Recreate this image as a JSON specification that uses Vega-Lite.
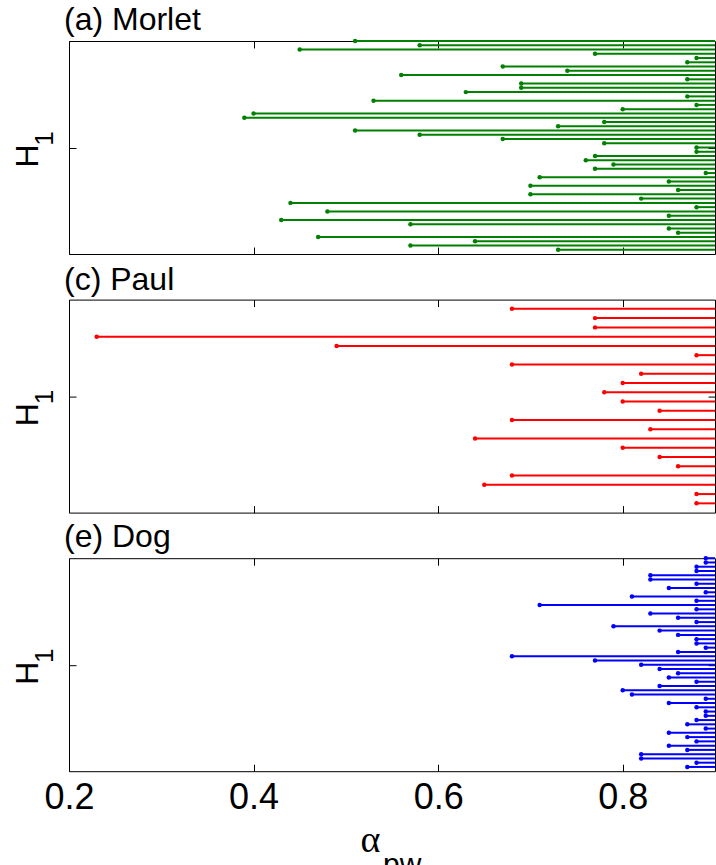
{
  "$schema": "https://vega.github.io/schema/vega-lite/v6.json",
  "padding": {"left": 11, "top": 3, "right": 2, "bottom": 0},
  "background": "white",
  "bounds": "flush",
  "spacing": 45.6,
  "config": {
    "view": {"stroke": "#000", "strokeWidth": 1},
    "axis": {"grid": false, "domain": false, "tickColor": "#000", "tickWidth": 1, "labelFont": "Liberation Sans", "titleFont": "Liberation Sans", "titleFontWeight": "normal", "titleColor": "#000", "labelColor": "#000"},
    "title": {"font": "Liberation Sans", "fontSize": 32, "fontWeight": "normal", "color": "#000", "anchor": "start", "frame": "group", "baseline": "alphabetic", "offset": 2, "dx": -5}
  },
  "datasets": {
    "morlet": [
      {"i": 50, "a": 0.51}, {"i": 49, "a": 0.58}, {"i": 48, "a": 0.45}, {"i": 47, "a": 0.77}, {"i": 46, "a": 0.88},
      {"i": 45, "a": 0.87}, {"i": 44, "a": 0.67}, {"i": 43, "a": 0.74}, {"i": 42, "a": 0.56}, {"i": 41, "a": 0.87},
      {"i": 40, "a": 0.69}, {"i": 39, "a": 0.69}, {"i": 38, "a": 0.63}, {"i": 37, "a": 0.87}, {"i": 36, "a": 0.53},
      {"i": 35, "a": 0.88}, {"i": 34, "a": 0.80}, {"i": 33, "a": 0.40}, {"i": 32, "a": 0.39}, {"i": 31, "a": 0.78},
      {"i": 30, "a": 0.73}, {"i": 29, "a": 0.51}, {"i": 28, "a": 0.58}, {"i": 27, "a": 0.67}, {"i": 26, "a": 0.78},
      {"i": 25, "a": 0.88}, {"i": 24, "a": 0.88}, {"i": 23, "a": 0.77}, {"i": 22, "a": 0.76}, {"i": 21, "a": 0.79},
      {"i": 20, "a": 0.77}, {"i": 19, "a": 0.89}, {"i": 18, "a": 0.71}, {"i": 17, "a": 0.85}, {"i": 16, "a": 0.70},
      {"i": 15, "a": 0.86}, {"i": 14, "a": 0.70}, {"i": 13, "a": 0.82}, {"i": 12, "a": 0.44}, {"i": 11, "a": 0.88},
      {"i": 10, "a": 0.48}, {"i": 9, "a": 0.85}, {"i": 8, "a": 0.43}, {"i": 7, "a": 0.57}, {"i": 6, "a": 0.85},
      {"i": 5, "a": 0.86}, {"i": 4, "a": 0.47}, {"i": 3, "a": 0.64}, {"i": 2, "a": 0.57}, {"i": 1, "a": 0.73}
    ],
    "paul": [
      {"i": 22, "a": 0.68}, {"i": 21, "a": 0.77}, {"i": 20, "a": 0.77}, {"i": 19, "a": 0.23}, {"i": 18, "a": 0.49},
      {"i": 17, "a": 0.88}, {"i": 16, "a": 0.68}, {"i": 15, "a": 0.82}, {"i": 14, "a": 0.80}, {"i": 13, "a": 0.78},
      {"i": 12, "a": 0.80}, {"i": 11, "a": 0.84}, {"i": 10, "a": 0.68}, {"i": 9, "a": 0.83}, {"i": 8, "a": 0.64},
      {"i": 7, "a": 0.80}, {"i": 6, "a": 0.84}, {"i": 5, "a": 0.86}, {"i": 4, "a": 0.68}, {"i": 3, "a": 0.65},
      {"i": 2, "a": 0.88}, {"i": 1, "a": 0.88}
    ],
    "dog": [
      {"i": 50, "a": 0.89}, {"i": 49, "a": 0.89}, {"i": 48, "a": 0.88}, {"i": 47, "a": 0.88}, {"i": 46, "a": 0.83},
      {"i": 45, "a": 0.83}, {"i": 44, "a": 0.88}, {"i": 43, "a": 0.85}, {"i": 42, "a": 0.89}, {"i": 41, "a": 0.81},
      {"i": 40, "a": 0.88}, {"i": 39, "a": 0.71}, {"i": 38, "a": 0.88}, {"i": 37, "a": 0.83}, {"i": 36, "a": 0.86},
      {"i": 35, "a": 0.88}, {"i": 34, "a": 0.79}, {"i": 33, "a": 0.84}, {"i": 32, "a": 0.86}, {"i": 31, "a": 0.88},
      {"i": 30, "a": 0.88}, {"i": 29, "a": 0.89}, {"i": 28, "a": 0.86}, {"i": 27, "a": 0.68}, {"i": 26, "a": 0.77},
      {"i": 25, "a": 0.82}, {"i": 24, "a": 0.84}, {"i": 23, "a": 0.86}, {"i": 22, "a": 0.85}, {"i": 21, "a": 0.88},
      {"i": 20, "a": 0.84}, {"i": 19, "a": 0.80}, {"i": 18, "a": 0.81}, {"i": 17, "a": 0.89}, {"i": 16, "a": 0.85},
      {"i": 15, "a": 0.88}, {"i": 14, "a": 0.89}, {"i": 13, "a": 0.89}, {"i": 12, "a": 0.88}, {"i": 11, "a": 0.87},
      {"i": 10, "a": 0.89}, {"i": 9, "a": 0.85}, {"i": 8, "a": 0.87}, {"i": 7, "a": 0.88}, {"i": 6, "a": 0.85},
      {"i": 5, "a": 0.87}, {"i": 4, "a": 0.82}, {"i": 3, "a": 0.82}, {"i": 2, "a": 0.88}, {"i": 1, "a": 0.87}
    ]
  },
  "vconcat": [
    {
      "title": {"text": "(a) Morlet"},
      "width": 646, "height": 213,
      "data": {"name": "morlet"},
      "layer": [
        {
          "mark": {"type": "rule", "color": "#008000", "strokeWidth": 2},
          "encoding": {
            "x": {"field": "a", "type": "quantitative", "scale": {"domain": [0.2, 0.9], "nice": false, "zero": false},
                  "axis": {"orient": "bottom", "values": [0.2, 0.4, 0.6, 0.8], "labels": false, "tickSize": -7, "title": null}},
            "x2": {"datum": 0.9},
            "y": {"field": "i", "type": "quantitative", "scale": {"domain": [0, 50], "nice": false, "zero": false},
                  "axis": {"orient": "left", "values": [25], "labels": false, "tickSize": -7, "title": "H", "titleAngle": -90, "titleX": -31.5, "titleY": 114.5, "titleAlign": "center", "titleBaseline": "alphabetic", "titleFontSize": 32}}
          }
        },
        {
          "mark": {"type": "point", "filled": true, "color": "#008000", "size": 20, "opacity": 1},
          "encoding": {
            "x": {"field": "a", "type": "quantitative", "axis": {"orient": "top", "values": [0.2, 0.4, 0.6, 0.8], "labels": false, "tickSize": -7, "title": null}},
            "y": {"field": "i", "type": "quantitative", "axis": {"orient": "right", "values": [25], "labels": false, "tickSize": -7, "title": "1", "titleAngle": -90, "titleX": -662.5, "titleY": 97, "titleAlign": "center", "titleBaseline": "alphabetic", "titleFontSize": 26}}
          }
        }
      ],
      "resolve": {"axis": {"x": "independent", "y": "independent"}}
    },
    {
      "title": {"text": "(c) Paul"},
      "width": 646, "height": 213,
      "data": {"name": "paul"},
      "layer": [
        {
          "mark": {"type": "rule", "color": "#ff0000", "strokeWidth": 2},
          "encoding": {
            "x": {"field": "a", "type": "quantitative", "scale": {"domain": [0.2, 0.9], "nice": false, "zero": false},
                  "axis": {"orient": "bottom", "values": [0.2, 0.4, 0.6, 0.8], "labels": false, "tickSize": -7, "title": null}},
            "x2": {"datum": 0.9},
            "y": {"field": "i", "type": "quantitative", "scale": {"domain": [0, 23], "nice": false, "zero": false},
                  "axis": {"orient": "left", "values": [12.5], "labels": false, "tickSize": -7, "title": "H", "titleAngle": -90, "titleX": -31.5, "titleY": 114.5, "titleAlign": "center", "titleBaseline": "alphabetic", "titleFontSize": 32}}
          }
        },
        {
          "mark": {"type": "point", "filled": true, "color": "#ff0000", "size": 20, "opacity": 1},
          "encoding": {
            "x": {"field": "a", "type": "quantitative", "axis": {"orient": "top", "values": [0.2, 0.4, 0.6, 0.8], "labels": false, "tickSize": -7, "title": null}},
            "y": {"field": "i", "type": "quantitative", "axis": {"orient": "right", "values": [12.5], "labels": false, "tickSize": -7, "title": "1", "titleAngle": -90, "titleX": -662.5, "titleY": 97, "titleAlign": "center", "titleBaseline": "alphabetic", "titleFontSize": 26}}
          }
        }
      ],
      "resolve": {"axis": {"x": "independent", "y": "independent"}}
    },
    {
      "title": {"text": "(e) Dog"},
      "width": 646, "height": 213,
      "data": {"name": "dog"},
      "layer": [
        {
          "mark": {"type": "rule", "color": "#0000ff", "strokeWidth": 2},
          "encoding": {
            "x": {"field": "a", "type": "quantitative", "scale": {"domain": [0.2, 0.9], "nice": false, "zero": false},
                  "axis": {"orient": "bottom", "values": [0.2, 0.4, 0.6, 0.8], "format": ".1f", "labelFlush": false, "labelFontSize": 36, "labelBaseline": "alphabetic", "labelPadding": 44.3, "tickSize": -7,
                           "title": "α", "titleFont": "Liberation Serif", "titleFontSize": 38, "titleX": 301, "titleY": 80, "titleAlign": "center", "titleBaseline": "alphabetic"}},
            "x2": {"datum": 0.9},
            "y": {"field": "i", "type": "quantitative", "scale": {"domain": [0, 50], "nice": false, "zero": false},
                  "axis": {"orient": "left", "values": [25], "labels": false, "tickSize": -7, "title": "H", "titleAngle": -90, "titleX": -31.5, "titleY": 114.5, "titleAlign": "center", "titleBaseline": "alphabetic", "titleFontSize": 32}}
          }
        },
        {
          "mark": {"type": "point", "filled": true, "color": "#0000ff", "size": 20, "opacity": 1},
          "encoding": {
            "x": {"field": "a", "type": "quantitative", "axis": {"orient": "top", "values": [0.2, 0.4, 0.6, 0.8], "labels": false, "tickSize": -7,
                           "title": "pw", "titleFontSize": 30, "titleX": 313.5, "titleY": 315, "titleAlign": "left", "titleBaseline": "alphabetic"}},
            "y": {"field": "i", "type": "quantitative", "axis": {"orient": "right", "values": [25], "labels": false, "tickSize": -7, "title": "1", "titleAngle": -90, "titleX": -662.5, "titleY": 97, "titleAlign": "center", "titleBaseline": "alphabetic", "titleFontSize": 26}}
          }
        }
      ],
      "resolve": {"axis": {"x": "independent", "y": "independent"}}
    }
  ]
}
